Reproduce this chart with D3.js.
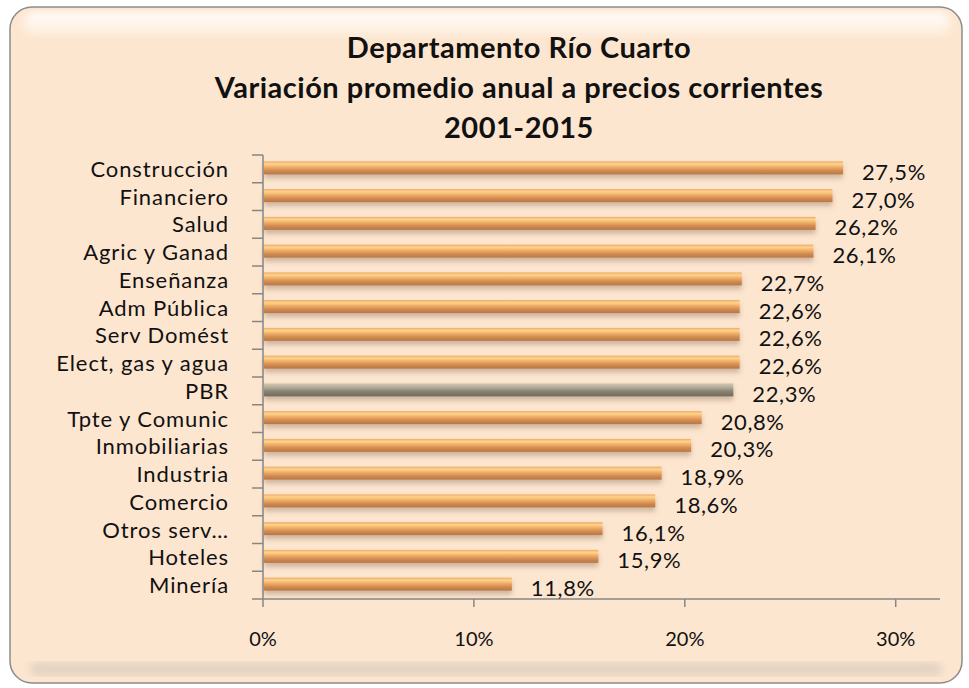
<!DOCTYPE html>
<html>
<head>
<meta charset="utf-8">
<script src="https://cdn.jsdelivr.net/npm/d3@7"></script>
<style>
  body { margin: 0; background: #fff; }
  text { font-family: Lato, "Open Sans", sans-serif; fill: #111; }
</style>
</head>
<body>
<div class="chart"></div>
<script>
const categories = ['Construcción', 'Financiero', 'Salud', 'Agric y Ganad', 'Enseñanza', 'Adm Pública',
  'Serv Domést', 'Elect, gas y agua', 'PBR', 'Tpte y Comunic', 'Inmobiliarias', 'Industria',
  'Comercio', 'Otros serv…', 'Hoteles', 'Minería'];
const values = [27.5, 27.0, 26.2, 26.1, 22.7, 22.6, 22.6, 22.6, 22.3, 20.8, 20.3, 18.9, 18.6, 16.1, 15.9, 11.8];
const xTicks = [0, 10, 20, 30];
const titleLines = ['Departamento Río Cuarto', 'Variación promedio anual a precios corrientes', '2001-2015'];

const w = 969;
const h = 688;
const margin = { top: 155, right: 29, bottom: 89, left: 263 };

const data = categories.map((c, i) => ({ name: c, value: values[i] }));

const svg = d3.select('.chart')
  .append('svg')
  .attr('width', w)
  .attr('height', h);

const defs = svg.append('defs');

function barGradient(id, stops) {
  const g = defs.append('linearGradient')
    .attr('id', id)
    .attr('x1', 0).attr('y1', 0).attr('x2', 0).attr('y2', 1);
  stops.forEach(s => g.append('stop').attr('offset', s[0]).attr('stop-color', s[1]));
}
barGradient('orange', [[0, '#f2a86a'], [0.2, '#fdd58a'], [0.4, '#f4b36c'], [0.7, '#d28c52'], [1, '#b87644']]);
barGradient('grey', [[0, '#cfc8b4'], [0.3, '#b4ad98'], [0.6, '#8a8474'], [1, '#6f6a5c']]);
barGradient('gloss', [[0, '#ffffff'], [1, '#fdebd8']]);

const shadow = defs.append('filter').attr('id', 'shadow')
  .attr('x', '-5%').attr('y', '-50%').attr('width', '110%').attr('height', '250%');
shadow.append('feDropShadow')
  .attr('dx', 0).attr('dy', 4).attr('stdDeviation', 2.5)
  .attr('flood-color', '#7a5a40').attr('flood-opacity', 0.35);

const frameShadow = defs.append('filter').attr('id', 'frameShadow')
  .attr('x', '-5%').attr('y', '-5%').attr('width', '110%').attr('height', '110%');
frameShadow.append('feGaussianBlur').attr('stdDeviation', 4);

// frame
svg.append('rect')
  .attr('x', 10).attr('y', 7).attr('width', 952).attr('height', 676)
  .attr('rx', 22)
  .attr('fill', '#fde6d0')
  .attr('stroke', '#8c8c8c')
  .attr('stroke-width', 1.5);

// bottom darker band and top gloss band
svg.append('rect')
  .attr('x', 30).attr('y', 662).attr('width', 912).attr('height', 14)
  .attr('rx', 6)
  .attr('fill', '#e3d2c2')
  .attr('filter', 'url(#frameShadow)');
svg.append('rect')
  .attr('x', 24).attr('y', 12).attr('width', 926).attr('height', 24)
  .attr('rx', 10)
  .attr('fill', 'url(#gloss)')
  .attr('filter', 'url(#frameShadow)');

// title
svg.append('g')
  .selectAll('text')
  .data(titleLines)
  .enter()
  .append('text')
  .attr('x', 519)
  .attr('y', (d, i) => 58 + i * 40)
  .style('text-anchor', 'middle')
  .style('font-weight', 'bold')
  .style('font-size', '29px')
  .style('letter-spacing', '0.5px')
  .text(d => d);

const xScale = d3.scaleLinear()
  .domain([0, 32.1])
  .range([margin.left, w - margin.right]);

const axisColor = '#868686';

// category band boundaries
const bounds = d3.range(categories.length + 1)
  .map(i => margin.top + i * (h - margin.top - margin.bottom) / categories.length);
const mid = i => (bounds[i] + bounds[i + 1]) / 2;

// y axis
svg.append('line')
  .attr('x1', margin.left).attr('x2', margin.left)
  .attr('y1', margin.top).attr('y2', h - margin.bottom)
  .attr('stroke', axisColor).attr('stroke-width', 1.5);

svg.append('g')
  .selectAll('line')
  .data(bounds)
  .enter()
  .append('line')
  .attr('x1', margin.left - 11).attr('x2', margin.left)
  .attr('y1', d => d).attr('y2', d => d)
  .attr('stroke', axisColor).attr('stroke-width', 1.5);

svg.append('g')
  .selectAll('text')
  .data(categories)
  .enter()
  .append('text')
  .attr('x', 229)
  .attr('y', (d, i) => mid(i) + 8)
  .style('text-anchor', 'end')
  .style('font-size', '22px')
  .style('letter-spacing', '0.9px')
  .text(d => d);

// x axis
const xAxisY = h - margin.bottom;
svg.append('line')
  .attr('x1', margin.left).attr('x2', xScale(32.1))
  .attr('y1', xAxisY).attr('y2', xAxisY)
  .attr('stroke', axisColor).attr('stroke-width', 1.5);

svg.append('g')
  .selectAll('line')
  .data(xTicks)
  .enter()
  .append('line')
  .attr('x1', d => xScale(d)).attr('x2', d => xScale(d))
  .attr('y1', xAxisY).attr('y2', xAxisY + 8)
  .attr('stroke', axisColor).attr('stroke-width', 1.5);

svg.append('g')
  .selectAll('text')
  .data(xTicks)
  .enter()
  .append('text')
  .attr('x', d => xScale(d))
  .attr('y', xAxisY + 47)
  .style('text-anchor', 'middle')
  .style('font-size', '20px')
  .text(d => d + '%');

// bars
const barH = 13;
svg.append('g')
  .selectAll('rect')
  .data(data)
  .enter()
  .append('rect')
  .attr('x', xScale(0) + 1)
  .attr('y', (d, i) => mid(i) - barH / 2 - 1)
  .attr('width', d => xScale(d.value) - xScale(0) - 1)
  .attr('height', barH)
  .attr('fill', d => d.name === 'PBR' ? 'url(#grey)' : 'url(#orange)')
  .attr('filter', 'url(#shadow)');

// value labels
svg.append('g')
  .selectAll('text')
  .data(data)
  .enter()
  .append('text')
  .attr('x', d => xScale(d.value) + 19)
  .attr('y', (d, i) => mid(i) + 11)
  .style('text-anchor', 'start')
  .style('font-size', '22px')
  .style('letter-spacing', '0.6px')
  .text(d => d.value.toFixed(1).replace('.', ',') + '%');
</script>
</body>
</html>
